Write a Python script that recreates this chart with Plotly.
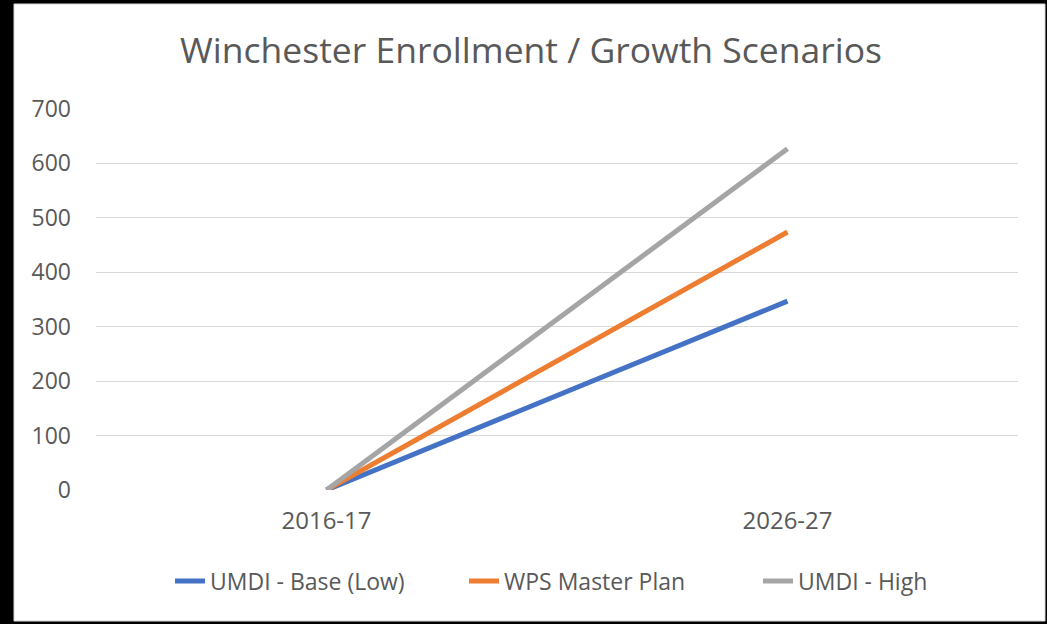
import plotly.graph_objects as go

categories = ["2016-17", "2026-27"]
series_names = ["UMDI - Base (Low)", "WPS Master Plan", "UMDI - High"]
base_low = [0, 347]
wps_master = [0, 474]
umdi_high = [0, 627]
colors = ["#4472C4", "#ED7D31", "#A5A5A5"]
y_ticks = [0, 100, 200, 300, 400, 500, 600, 700]

fig = go.Figure()
for name, vals, col in zip(series_names, [base_low, wps_master, umdi_high], colors):
    fig.add_trace(go.Scatter(x=categories, y=vals, mode="lines", name=name,
                             line=dict(color=col, width=5)))

W, H = 1047, 624
l, r, t, b = 96, 29, 109, 134
pw, ph = W - l - r, H - t - b

def px(x):
    return (x - l) / pw

def py(y):
    return (H - b - y) / ph

fig.add_shape(type="rect", xref="paper", yref="paper",
              x0=px(14), x1=px(1045), y0=py(621), y1=py(4),
              fillcolor="white", line=dict(color="#d9d9d9", width=1), layer="below")

fig.update_layout(
    width=W, height=H,
    margin=dict(l=l, r=r, t=t, b=b, autoexpand=False),
    paper_bgcolor="black", plot_bgcolor="rgba(0,0,0,0)",
    font=dict(family="Open Sans", color="#595959"),
    title=dict(text="Winchester Enrollment / Growth Scenarios",
               x=px(531), xanchor="center", xref="paper", y=1 - 51 / H, yanchor="middle",
               font=dict(size=35.5, color="#595959", family="Open Sans")),
    showlegend=True,
    legend=dict(orientation="h", x=px(170), xanchor="left", y=py(581), yanchor="middle",
                font=dict(size=23, color="#595959"), bgcolor="rgba(0,0,0,0)",
                entrywidth=249, entrywidthmode="pixels", tracegroupgap=0),
    xaxis=dict(type="category", range=[-0.5, 1.5], showgrid=False, showline=False,
               ticks="", tickfont=dict(size=24, color="#595959"), ticklabelstandoff=14),
    yaxis=dict(range=[0, 700], tickvals=y_ticks, showgrid=True, gridcolor="#d9d9d9",
               gridwidth=1, zeroline=False, showline=False, ticks="",
               tickfont=dict(size=23, color="#595959"), ticklabelstandoff=24),
)

fig.write_html("out.html", config={"displayModeBar": False},
               post_script="document.body.style.margin='0';document.body.style.background='black';")
